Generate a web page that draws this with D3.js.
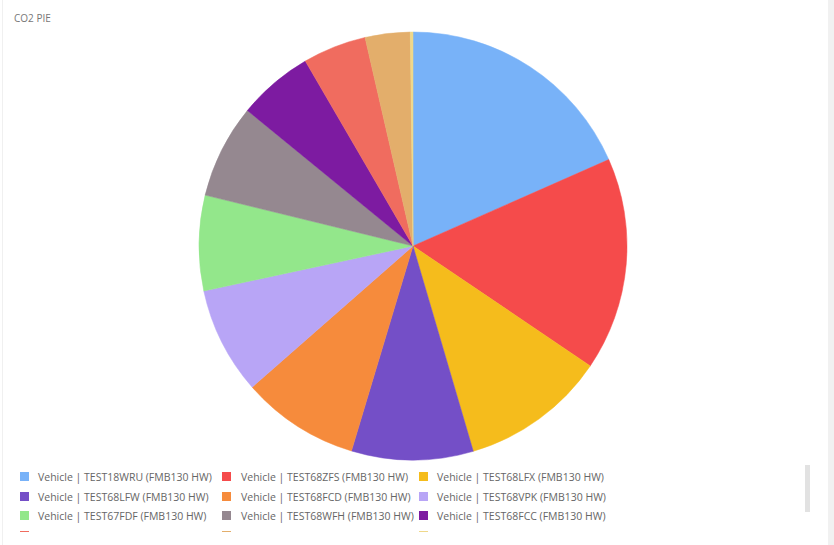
<!DOCTYPE html>
<html>
<head>
<meta charset="utf-8">
<script src="https://cdn.jsdelivr.net/npm/d3@7"></script>
<style>
  html, body { margin: 0; padding: 0; background: #fff; }
  svg { display: block; font-family: "Open Sans", sans-serif; }
</style>
</head>
<body>
<svg id="chart" width="834" height="545"></svg>
<script>
const title = "CO2 PIE";
const categories = [
  "Vehicle | TEST18WRU (FMB130 HW)",
  "Vehicle | TEST68ZFS (FMB130 HW)",
  "Vehicle | TEST68LFX (FMB130 HW)",
  "Vehicle | TEST68LFW (FMB130 HW)",
  "Vehicle | TEST68FCD (FMB130 HW)",
  "Vehicle | TEST68VPK (FMB130 HW)",
  "Vehicle | TEST67FDF (FMB130 HW)",
  "Vehicle | TEST68WFH (FMB130 HW)",
  "Vehicle | TEST68FCC (FMB130 HW)",
  "Vehicle | TEST68FCB (FMB130 HW)",
  "Vehicle | TEST68FCA (FMB130 HW)",
  "Vehicle | TEST68FCE (FMB130 HW)"
];
const values = [18.4, 16.1, 11.0, 9.2, 8.9, 8.1, 7.2, 7.1, 5.7, 4.8, 3.4, 0.2];
const colors = ["#78b2f8", "#f54b4b", "#f5bc1c", "#744fc7", "#f68b3c", "#b8a5f6",
                "#93e78b", "#958890", "#7d1ba1", "#f06c5f", "#e3ae6b", "#efd88a"];

const svg = d3.select("#chart");
const W = 834, H = 545;

// panel borders
svg.append("rect").attr("x", 828).attr("y", 0).attr("width", 6).attr("height", H).attr("fill", "#f1f1f1");
svg.append("line").attr("x1", 2.5).attr("x2", 2.5).attr("y1", 0).attr("y2", H).attr("stroke", "#f0f0f0");

svg.append("text").attr("x", 14).attr("y", 22)
  .attr("font-size", 10).attr("fill", "#777").text(title);

const cx = 413, cy = 246, r = 214;
const pie = d3.pie().sort(null).value(d => d);
const arc = d3.arc().innerRadius(0).outerRadius(r);
const color = d3.scaleOrdinal().domain(categories).range(colors);

const g = svg.append("g").attr("transform", `translate(${cx},${cy})`);
g.selectAll("path").data(pie(values)).join("path")
  .attr("d", arc)
  .attr("fill", (d, i) => color(categories[i]))
  .attr("stroke", (d, i) => color(categories[i]))
  .attr("stroke-width", 0.5);

// legend (clipped area)
svg.append("clipPath").attr("id", "legclip")
  .append("rect").attr("x", 0).attr("y", 462).attr("width", 800).attr("height", 70);

const colX = [20, 222, 419];
const textX = [38, 241, 437];
const rowY = [477, 497, 516, 536];
const leg = svg.append("g").attr("clip-path", "url(#legclip)");
categories.forEach((c, i) => {
  const col = i % 3, row = Math.floor(i / 3);
  leg.append("rect").attr("x", colX[col]).attr("y", rowY[row] - 5)
    .attr("width", 9).attr("height", 9).attr("fill", color(c));
  leg.append("text").attr("x", textX[col]).attr("y", rowY[row] + 3.5)
    .attr("font-size", 10.5).attr("fill", "#666").text(c);
});

// scrollbar
svg.append("rect").attr("x", 805).attr("y", 465).attr("width", 5).attr("height", 47)
  .attr("fill", "#e2e2e2");
</script>
</body>
</html>
